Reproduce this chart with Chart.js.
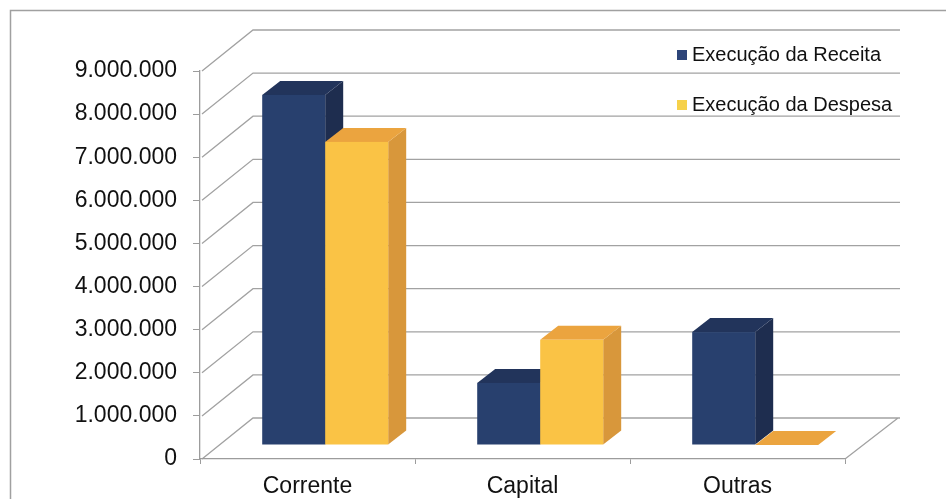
<!DOCTYPE html>
<html>
<head>
<meta charset="utf-8">
<script src="https://cdn.jsdelivr.net/npm/chart.js@4.4.1/dist/chart.umd.min.js"></script>
<style>
html, body { margin: 0; background: #fff; }
canvas { display: block; }
</style>
</head>
<body>
<canvas id="chart" width="946" height="499"></canvas>
<script>
var categories = ['Corrente', 'Capital', 'Outras'];
var receita = [8120000, 1440000, 2620000];
var despesa = [7030000, 2440000, 0];
var seriesNames = ['Execução da Receita', 'Execução da Despesa'];
var yMax = 9000000;
var yStep = 1000000;

var FONT = '"Liberation Sans", Arial, sans-serif';
var TEXT = '#111111';
var LINE = '#9c9c9c';

// face colours per series: front, top, side, legend key
var faces = [
  { front: '#28406e', top: '#22345b', side: '#1e2d4f', key: '#2d4579' },
  { front: '#fac345', top: '#eba43f', side: '#d8973b', key: '#f6d14a' }
];

// 3d geometry (pixels)
var wallDx = 53, wallDy = -41;   // back wall behind the front axes
var barDx = 17.7, barDy = -14;   // front face of the bars
var depthDx = 18, depthDy = -14; // depth of each bar

function fmt(v) {
  return String(v).replace(/\B(?=(\d{3})+(?!\d))/g, '.');
}

var box3d = {
  id: 'box3d',
  beforeDraw: function(chart) {
    var ctx = chart.ctx, a = chart.chartArea, y = chart.scales.y;
    ctx.save();
    // outer frame
    ctx.strokeStyle = '#a0a0a0';
    ctx.lineWidth = 1.5;
    ctx.strokeRect(10.5, 10.5, 1000, 1000);
    // side wall diagonals and back wall gridlines
    ctx.strokeStyle = '#a2a2a2';
    ctx.lineWidth = 1.3;
    ctx.beginPath();
    y.ticks.forEach(function(t) {
      var py = y.getPixelForValue(t.value);
      ctx.moveTo(a.left + 2, py);
      ctx.lineTo(a.left + wallDx, py + wallDy);
      ctx.lineTo(a.right + wallDx + 2, py + wallDy);
    });
    // floor, right edge
    ctx.moveTo(a.right, a.bottom);
    ctx.lineTo(a.right + wallDx, a.bottom + wallDy);
    ctx.stroke();
    ctx.restore();
  },
  beforeDatasetsDraw: function(chart) {
    var ctx = chart.ctx;
    var metas = chart.data.datasets.map(function(d, i) { return chart.getDatasetMeta(i); });
    ctx.save();
    for (var j = 0; j < categories.length; j++) {
      metas.forEach(function(meta, i) {
        var el = meta.data[j];
        var c = faces[i];
        var x0 = el.x - el.width / 2 + barDx, x1 = el.x + el.width / 2 + barDx;
        var yt = el.y + barDy, yb = el.base + barDy;
        // side
        ctx.fillStyle = c.side;
        ctx.beginPath();
        ctx.moveTo(x1, yt);
        ctx.lineTo(x1 + depthDx, yt + depthDy);
        ctx.lineTo(x1 + depthDx, yb + depthDy);
        ctx.lineTo(x1, yb);
        ctx.closePath();
        ctx.fill();
        // top
        ctx.fillStyle = c.top;
        ctx.beginPath();
        ctx.moveTo(x0, yt);
        ctx.lineTo(x1, yt);
        ctx.lineTo(x1 + depthDx, yt + depthDy);
        ctx.lineTo(x0 + depthDx, yt + depthDy);
        ctx.closePath();
        ctx.fill();
        // front
        if (yb - yt > 0.5) {
          ctx.fillStyle = c.front;
          ctx.fillRect(x0, yt, x1 - x0, yb - yt);
        }
      });
    }
    ctx.restore();
    return false;
  },
  afterDraw: function(chart) {
    var ctx = chart.ctx;
    ctx.save();
    ctx.font = '20px ' + FONT;
    ctx.textBaseline = 'middle';
    chart.data.datasets.forEach(function(ds, i) {
      var cy = 55 + i * 50;
      ctx.fillStyle = faces[i].key;
      ctx.fillRect(677, cy - 5, 10, 10);
      ctx.fillStyle = TEXT;
      ctx.fillText(ds.label, 692, cy);
    });
    ctx.restore();
  }
};

new Chart(document.getElementById('chart'), {
  type: 'bar',
  data: {
    labels: categories,
    datasets: [
      { label: seriesNames[0], data: receita, backgroundColor: faces[0].front },
      { label: seriesNames[1], data: despesa, backgroundColor: faces[1].front }
    ]
  },
  options: {
    responsive: false,
    animation: false,
    categoryPercentage: 0.586,
    barPercentage: 1,
    layout: { padding: { top: 71, right: 101, left: 0, bottom: 0 } },
    plugins: { legend: { display: false }, tooltip: { enabled: false } },
    scales: {
      x: {
        ticks: { color: TEXT, font: { size: 23, family: FONT }, padding: 9 },
        grid: { drawOnChartArea: false, tickLength: 5, color: LINE, offset: true },
        border: { display: true, color: LINE, width: 1.3 },
        afterFit: function(s) { s.height = 40; }
      },
      y: {
        min: 0,
        max: yMax,
        ticks: { stepSize: yStep, color: TEXT, font: { size: 23, family: FONT }, padding: 16, callback: fmt },
        grid: { drawOnChartArea: false, tickLength: 7, color: LINE },
        border: { display: true, color: LINE, width: 1.3 },
        afterFit: function(s) { s.width = 200; }
      }
    }
  },
  plugins: [box3d]
});
</script>
</body>
</html>
